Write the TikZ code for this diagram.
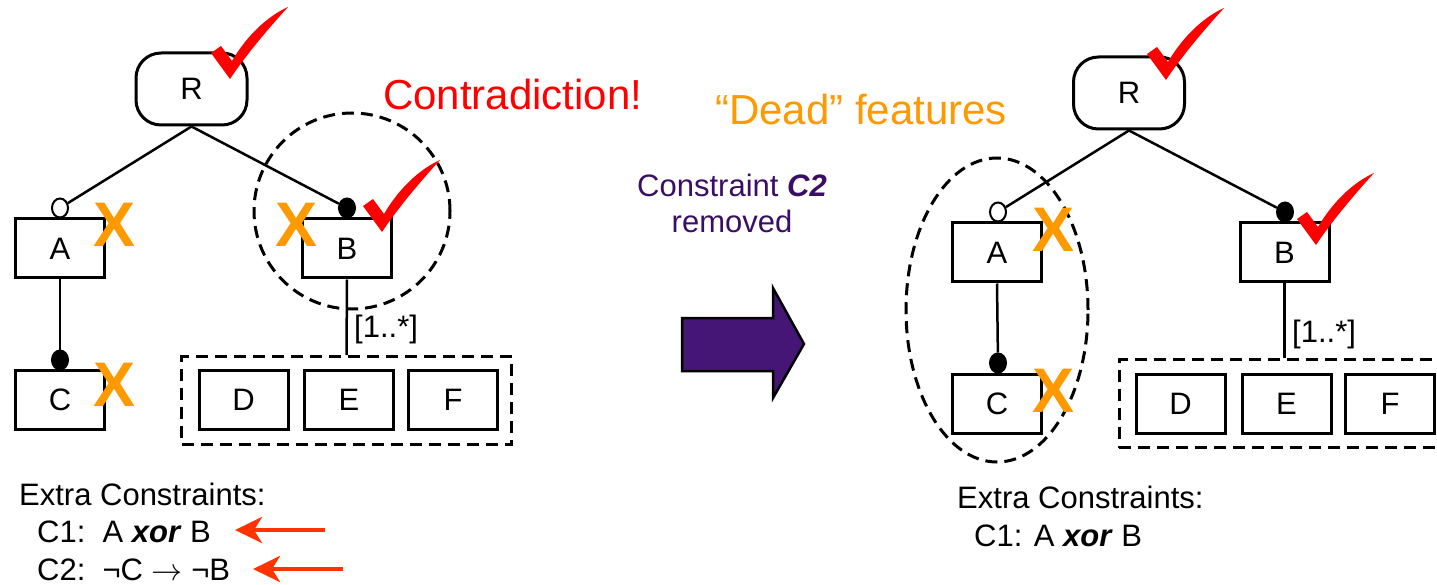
\RequirePackage{fix-cm}
\documentclass[tikz,border=0pt]{standalone}
\usepackage{fontspec}
\setmainfont{Liberation Sans}
\usepackage{tikz}
\usetikzlibrary{positioning, arrows.meta, shapes.geometric}

\definecolor{hitred}{RGB}{255,0,0}
\definecolor{deadorange}{RGB}{255,153,0}
\definecolor{stepviolet}{RGB}{69,22,117}
\definecolor{noteviolet}{RGB}{58,14,100}
\definecolor{pointred}{RGB}{255,51,0}

\newcommand{\basefont}{\fontsize{31}{36}\selectfont}
\newcommand{\shoutfont}{\fontsize{42}{48}\selectfont}
\newcommand{\crossfont}{\fontsize{63}{70}\selectfont\bfseries}

\tikzset{
  featbox/.style  = {draw, line width=3pt, minimum width=89pt, minimum height=59pt, inner sep=0pt, font=\basefont},
  rootbox/.style  = {featbox, rounded corners=25pt, minimum width=111pt, minimum height=72pt},
  groupbox/.style = {draw, line width=3pt, dash pattern=on 12pt off 7pt, minimum height=88pt, inner sep=0pt},
  optdot/.style   = {ellipse, draw, line width=2pt, fill=white, minimum width=16pt, minimum height=19pt, inner sep=0pt},
  mandot/.style   = {optdot, fill=black},
  link/.style     = {line width=2.5pt},
  ring/.style     = {line width=3pt, dash pattern=on 12pt off 7pt},
  cross/.style    = {text=deadorange, font=\crossfont, inner sep=0pt},
  txt/.style      = {font=\basefont, inner sep=0pt, anchor=base west},
  pointer/.style  = {-{Stealth[length=27pt, width=26pt, inset=8pt]}, line width=4.5pt, draw=pointred},
  tick/.pic = {
    \fill[hitred] (-17,-24) -- (-7,-31) -- (4,-16)
      .. controls (18,-40) and (38,-60) .. (60,-70)
      .. controls (40,-48) and (18,-22) .. (2,2) -- cycle;
  }
}

\begin{document}
\begin{tikzpicture}[x=1pt, y=-1pt]
    \useasboundingbox (0,0) rectangle (1437,585);

    % --- Left model: before the constraint is dropped ----------------------
    \node[rootbox] (lR) at (191.5,89) {R};
    \node[featbox] (lA) at (60,248.5) {A};
    \node[featbox] (lB) at (347,248.5) {B};
    \node[featbox] (lC) at (60,400) {C};

    \node[groupbox, minimum width=330pt] (lgrp) at (346.5,400.5) {};
    \node[featbox] (lD) at (243.5,400) {D};
    \node[featbox] (lE) at (349,400) {E};
    \node[featbox] (lF) at (453,400) {F};

    \node[optdot] (ldotA) at (60,208) {};
    \node[mandot] (ldotB) at (347,208) {};
    \node[mandot] (ldotC) at (60,360) {};

    \draw[link] (lR.south) -- (ldotA);
    \draw[link] (lR.south) -- (ldotB);
    \draw[link] (lA.south) -- (ldotC);
    \draw[link] (lB.south) -- (lgrp.north);

    \node[txt] (lcard) at (354,337) {[1..*]};

    \draw[ring] (352,211) circle[radius=98pt];

    \node[cross] (lxA) at (115,225) {X};
    \node[cross] (lxB) at (297,225) {X};
    \node[cross] (lxC) at (115,385) {X};

    \pic at (228,77) {tick};
    \pic at (380,230) {tick};

    \node[txt, text=hitred, font=\shoutfont] (clash) at (383,110) {Contradiction!};

    % --- Left constraints ----------------------------------------------------
    \node[txt] (lextra) at (19,505) {Extra Constraints:};
    \node[txt] (lc1) at (37,542) {C1:\ \ A \textbf{\textit{xor}} B};
    \node[txt] (lc2) at (37,580) {C2:\ \ ¬C $\rightarrow$ ¬B};

    \coordinate (p1tail) at (325,530);
    \coordinate (p1head) at (235,530);
    \coordinate (p2tail) at (343,569);
    \coordinate (p2head) at (253,569);
    \draw[pointer] (p1tail) -- (p1head);
    \draw[pointer] (p2tail) -- (p2head);

    % --- Middle: step arrow --------------------------------------------------
    \node[font=\basefont, text=noteviolet, align=center, inner sep=0pt, anchor=north]
      (drop) at (732,174) {Constraint \textbf{\textit{C2}}\\removed};
    \draw[line width=2.5pt, fill=stepviolet, line join=miter]
      (682,318) -- (773,318) -- (773,288) -- (804,344) -- (773,398) -- (773,371) -- (682,371) -- cycle;

    \node[txt, text=deadorange, font=\shoutfont] (dead) at (715,125) {“Dead” features};

    % --- Right model: after the constraint is dropped ------------------------
    \node[rootbox] (rR) at (1129,93) {R};
    \node[featbox] (rA) at (997,252.5) {A};
    \node[featbox] (rB) at (1284.5,252.5) {B};
    \node[featbox] (rC) at (997,403.5) {C};

    \node[groupbox, minimum width=331pt] (rgrp) at (1284.5,403.5) {};
    \node[featbox] (rD) at (1180.5,403.5) {D};
    \node[featbox] (rE) at (1286.5,403.5) {E};
    \node[featbox] (rF) at (1390,403.5) {F};

    \node[optdot] (rdotA) at (998,212) {};
    \node[mandot] (rdotB) at (1285,212) {};
    \node[mandot] (rdotC) at (998,363) {};

    \draw[link] (rR.south) -- (rdotA);
    \draw[link] (rR.south) -- (rdotB);
    \draw[link] (rA.south) -- (rdotC);
    \draw[link] (rB.south) -- (rgrp.north);

    \node[txt] (rcard) at (1292,342) {[1..*]};

    \draw[ring] (997,310) ellipse[x radius=91pt, y radius=152pt];

    \node[cross] (rxA) at (1053,230) {X};
    \node[cross] (rxC) at (1053,391) {X};

    \pic at (1164,78) {tick};
    \pic at (1314,243) {tick};

    % --- Right constraints ---------------------------------------------------
    \node[txt] (rextra) at (957,508) {Extra Constraints:};
    \node[txt] (rc1) at (974,546) {C1: A \textbf{\textit{xor}} B};

\end{tikzpicture}
\end{document}
